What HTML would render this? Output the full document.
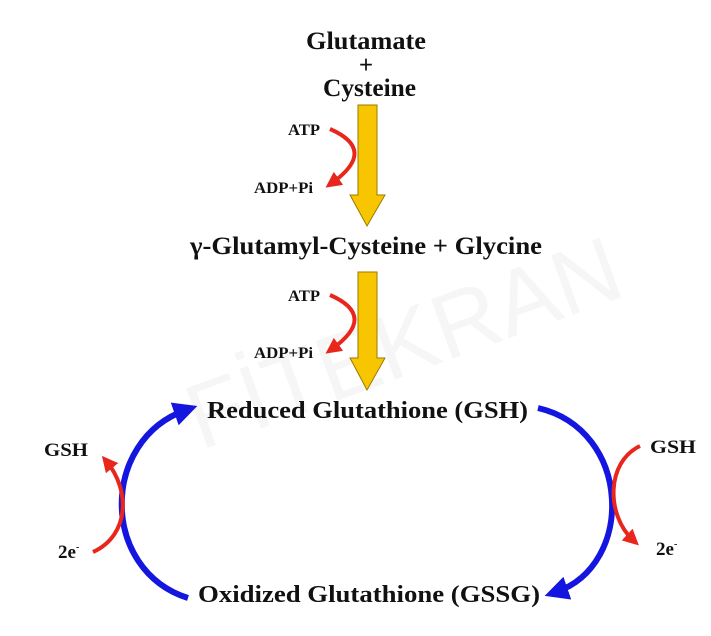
<!DOCTYPE html>
<html><head><meta charset="utf-8"><style>
html,body{margin:0;padding:0;background:#fff;}
svg{display:block;}
text{font-family:"Liberation Serif",serif;font-weight:bold;fill:#111;}
</style></head><body>
<svg width="711" height="636" viewBox="0 0 711 636" xmlns="http://www.w3.org/2000/svg">
<defs>
<marker id="r" markerWidth="4" markerHeight="4" refX="2" refY="2" orient="auto" markerUnits="strokeWidth"><path d="M0,0 L4,2 L0,4 Z" fill="#e8261c"/></marker>
<marker id="b" markerWidth="4" markerHeight="4" refX="2" refY="2" orient="auto" markerUnits="strokeWidth"><path d="M0,0 L4,2 L0,4 Z" fill="#1515e0"/></marker>
</defs>
<text x="160" y="380" font-size="92" transform="rotate(-20 380 300)" style="fill:#f6f6f6;font-family:'Liberation Sans',sans-serif;font-weight:normal">FİTEKRAN</text>
<text x="306" y="49" font-size="25" textLength="120" lengthAdjust="spacingAndGlyphs">Glutamate</text>
<text x="366" y="73" font-size="25" text-anchor="middle">+</text>
<text x="323" y="96" font-size="25" textLength="93" lengthAdjust="spacingAndGlyphs">Cysteine</text>
<path d="M358,105 H377 V195 H385 L367,226 L350,195 H358 Z" fill="#f7c600" stroke="#9a7a00" stroke-width="1"/>
<path d="M358,272 H377 V358 H385 L367,390 L350,358 H358 Z" fill="#f7c600" stroke="#9a7a00" stroke-width="1"/>
<text x="288" y="135" font-size="16" textLength="32" lengthAdjust="spacingAndGlyphs">ATP</text>
<text x="254" y="193" font-size="16" textLength="59" lengthAdjust="spacingAndGlyphs">ADP+Pi</text>
<path d="M330,129 Q378,150 332,183" fill="none" stroke="#e8261c" stroke-width="4" marker-end="url(#r)"/>
<text x="288" y="301" font-size="16" textLength="32" lengthAdjust="spacingAndGlyphs">ATP</text>
<text x="254" y="358" font-size="16" textLength="59" lengthAdjust="spacingAndGlyphs">ADP+Pi</text>
<path d="M330,295 Q378,316 332,349" fill="none" stroke="#e8261c" stroke-width="4" marker-end="url(#r)"/>
<text x="190" y="254" font-size="25" textLength="352" lengthAdjust="spacingAndGlyphs">γ-Glutamyl-Cysteine + Glycine</text>
<text x="207" y="418" font-size="24" textLength="321" lengthAdjust="spacingAndGlyphs">Reduced Glutathione (GSH)</text>
<text x="198" y="602" font-size="24" textLength="342" lengthAdjust="spacingAndGlyphs">Oxidized Glutathione (GSSG)</text>
<path d="M188,598 C100,570 100,440 186,410" fill="none" stroke="#1515e0" stroke-width="6" marker-end="url(#b)"/>
<path d="M538,408 C632,430 635,565 556,592" fill="none" stroke="#1515e0" stroke-width="6" marker-end="url(#b)"/>
<text x="44" y="456" font-size="19" textLength="44" lengthAdjust="spacingAndGlyphs">GSH</text>
<text x="58" y="558" font-size="19">2e<tspan font-size="10" dy="-8">-</tspan></text>
<path d="M93,552 C130,535 130,490 107,462" fill="none" stroke="#e8261c" stroke-width="4" marker-end="url(#r)"/>
<text x="650" y="453" font-size="19" textLength="46" lengthAdjust="spacingAndGlyphs">GSH</text>
<text x="656" y="555" font-size="19">2e<tspan font-size="10" dy="-8">-</tspan></text>
<path d="M640,446 C606,462 606,515 633,540" fill="none" stroke="#e8261c" stroke-width="4" marker-end="url(#r)"/>
</svg>
</body></html>
